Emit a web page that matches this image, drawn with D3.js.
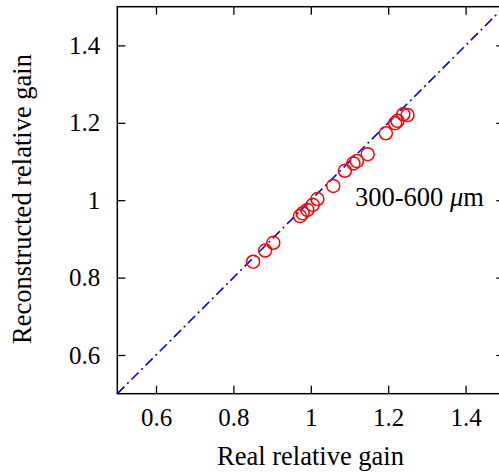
<!DOCTYPE html>
<html>
<head>
<meta charset="utf-8">
<script src="https://cdn.jsdelivr.net/npm/d3@7"></script>
<style>
  body { margin: 0; background: #fff; }
  svg { display: block; }
</style>
</head>
<body>
<script>
// Data

const realGain = [0.851, 0.882, 0.903, 0.972, 0.979, 0.991, 1.005, 1.017, 1.058,
  1.088, 1.110, 1.119, 1.147, 1.194, 1.218, 1.224, 1.239, 1.250];
const reconGain = [0.841, 0.870, 0.890, 0.959, 0.966, 0.975, 0.988, 1.003, 1.037,
  1.076, 1.095, 1.101, 1.119, 1.173, 1.199, 1.205, 1.222, 1.220];
const axisTicks = [0.6, 0.8, 1.0, 1.2, 1.4];
const axisRange = [0.5, 1.5];
const diagonal = [0.5, 1.5];
const rangeLabel = "300-600 ";

// Dimensions

const width = 499;
const height = 473;
const plotLeft = 117.3;
const plotTop = 6.7;
const side = 387;
const serif = "'Liberation Serif', 'Times New Roman', serif";

const svg = d3.select("body")
  .append("svg")
  .attr("width", width)
  .attr("height", height);

const x = d3.scaleLinear().domain(axisRange).range([plotLeft, plotLeft + side]);
const y = d3.scaleLinear().domain(axisRange).range([plotTop + side, plotTop]);

const fmt = d => String(+d.toFixed(1));

// clip for the plot contents
svg.append("clipPath").attr("id", "plot")
  .append("rect")
  .attr("x", plotLeft).attr("y", plotTop)
  .attr("width", side).attr("height", side);

// diagonal y = x
svg.append("path")
  .datum(diagonal)
  .attr("clip-path", "url(#plot)")
  .attr("fill", "none")
  .attr("stroke", "#0000ff")
  .attr("stroke-width", 1.6)
  .attr("stroke-dasharray", "10,4,2,4")
  .attr("d", d3.line().x(d => x(d)).y(d => y(d)));

// points
svg.selectAll("circle.pt")
  .data(realGain)
  .enter()
  .append("circle")
  .attr("class", "pt")
  .attr("cx", d => x(d))
  .attr("cy", (d, i) => y(reconGain[i]))
  .attr("r", 6.5)
  .attr("fill", "none")
  .attr("stroke", "#ff0000")
  .attr("stroke-width", 1.5);

// axes (inward ticks on all four sides)

function styleAxis(g) {
  g.attr("font-family", null).attr("font-size", null);
  g.select(".domain").remove();
  g.selectAll(".tick line").attr("stroke", "#000").attr("stroke-width", 1.3);
  g.selectAll("text")
    .style("font-family", serif)
    .style("font-size", "25px")
    .attr("fill", "#000");
}

svg.append("g")
  .attr("transform", `translate(0,${plotTop + side})`)
  .call(d3.axisBottom(x).tickValues(axisTicks).tickFormat(fmt).tickSize(-8).tickPadding(15))
  .call(styleAxis);

svg.append("g")
  .attr("transform", `translate(0,${plotTop})`)
  .call(d3.axisTop(x).tickValues(axisTicks).tickFormat("").tickSize(-8))
  .call(styleAxis);

svg.append("g")
  .attr("transform", `translate(${plotLeft},0)`)
  .call(d3.axisLeft(y).tickValues(axisTicks).tickFormat(fmt).tickSize(-8).tickPadding(17))
  .call(styleAxis);

svg.append("g")
  .attr("transform", `translate(${plotLeft + side},0)`)
  .call(d3.axisRight(y).tickValues(axisTicks).tickFormat("").tickSize(-8))
  .call(styleAxis);

// frame
svg.append("rect")
  .attr("x", plotLeft).attr("y", plotTop)
  .attr("width", side).attr("height", side)
  .attr("fill", "none")
  .attr("stroke", "#000")
  .attr("stroke-width", 1.5);

// titles

svg.append("text")
  .attr("x", 310.5)
  .attr("y", 465)
  .attr("text-anchor", "middle")
  .style("font-family", serif)
  .style("font-size", "26.5px")
  .text("Real relative gain");

svg.append("text")
  .attr("transform", `translate(31,199) rotate(-90)`)
  .attr("text-anchor", "middle")
  .style("font-family", serif)
  .style("font-size", "26.5px")
  .text("Reconstructed relative gain");

const lab = svg.append("text")
  .attr("x", 355)
  .attr("y", 206)
  .style("font-family", serif)
  .style("font-size", "26.5px")
  .text(rangeLabel);
lab.append("tspan").style("font-style", "italic").text("μ");
lab.append("tspan").text("m");
</script>
</body>
</html>
